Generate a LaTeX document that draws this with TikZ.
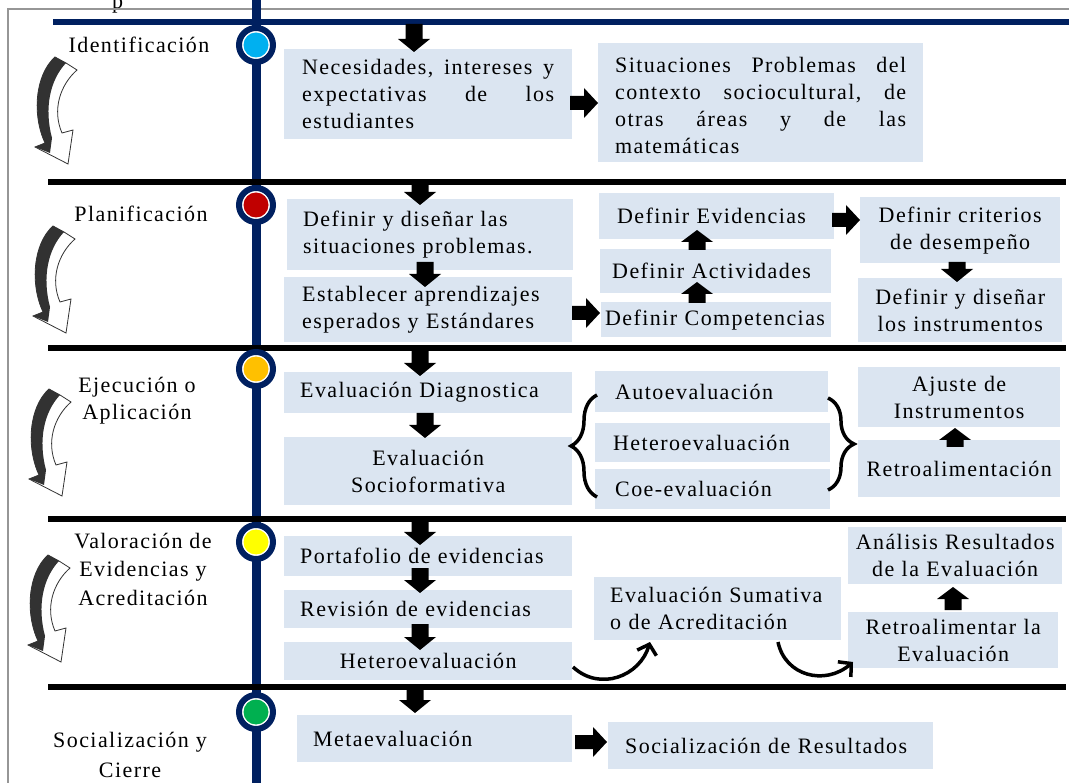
\documentclass[tikz,border=0pt]{standalone}
\usepackage{fontspec}
\setmainfont{Liberation Serif}[LetterSpace=6.5]
\usetikzlibrary{arrows.meta,decorations.pathreplacing}
\definecolor{navy}{RGB}{0,32,96}
\definecolor{boxblue}{RGB}{219,229,241}
\definecolor{cyanc}{RGB}{0,176,240}
\definecolor{redc}{RGB}{192,0,0}
\definecolor{amberc}{RGB}{255,192,0}
\definecolor{yellowc}{RGB}{255,255,0}
\definecolor{greenc}{RGB}{0,176,80}
\definecolor{darkc}{RGB}{50,50,50}
\definecolor{framec}{RGB}{150,150,150}
\newcommand\figfont{\fontsize{22}{27}\selectfont}
\newcommand\blkdown[3]{\fill[black] ({#1-8.5},#2) -- ({#1+8.5},#2) -- ({#1+8.5},{#3-13}) -- ({#1+16},{#3-13}) -- (#1,#3) -- ({#1-16},{#3-13}) -- ({#1-8.5},{#3-13}) -- cycle;}
\newcommand\blkup[3]{\fill[black] ({#1-8.5},#2) -- ({#1+8.5},#2) -- ({#1+8.5},{#3+12}) -- ({#1+16},{#3+12}) -- (#1,#3) -- ({#1-16},{#3+12}) -- ({#1-8.5},{#3+12}) -- cycle;}
\newcommand\blkright[3]{\fill[black] (#1,{#3-7}) -- ({#2-14},{#3-7}) -- ({#2-14},{#3-15}) -- (#2,#3) -- ({#2-14},{#3+15}) -- ({#2-14},{#3+7}) -- (#1,{#3+7}) -- cycle;}
\newcommand\bx[8]{\node[box, minimum width=#4pt, minimum height=#5pt, text width=#6pt, align=#7] (#1) at (#2,#3) {#8};}
\newcommand\jl[2]{\leavevmode\hbox to #1pt{#2}}
\tikzset{
  box/.style={fill=boxblue, inner sep=0pt, anchor=north west, font=\figfont},
  lbl/.style={font=\figfont, inner sep=0pt},
  sepline/.style={line width=6pt, black},
  ring/.style={circle, draw=navy, line width=6pt, fill=white, minimum size=34pt, inner sep=0pt,
    path picture={\fill[#1] (path picture bounding box.center) circle (12.5pt);}},
  curv/.style={line width=3.5pt, -{Straight Barb[length=9pt,width=20pt]}},
  brc/.style={line width=3.5pt, decorate, decoration={brace, amplitude=26pt, aspect=0.5}},
  cyc/.pic={
    \fill[white, draw=darkc, line width=0.8pt] (55,57) -- (66,63) -- (77,70) .. controls (60,85) and (52,110) .. (62,133) -- (73,130) -- (68,164) -- (35,147) -- (45,143) .. controls (32,115) and (35,75) .. (55,57) -- cycle;
    \fill[darkc] (55,57) -- (66,63) .. controls (50,80) and (44,108) .. (52,138) -- (50,153) -- (35,147) -- (45,143) .. controls (32,115) and (35,75) .. (55,57) -- cycle;
  }
}
\begin{document}
\begin{tikzpicture}[x=1pt,y=-1pt]
\useasboundingbox (0,0) rectangle (1069,783);
\node[lbl, anchor=base west] (cap) at (112,9) {p};
\draw[framec, line width=1.5pt] (8,783) -- (8,9) -- (1069,9);
% timeline
\draw[navy, line width=9pt] (256,0) -- (256,783);
\draw[navy, line width=6pt] (53,22) -- (1069,22);
\foreach \yy in {182,348,519,687} \draw[sepline] (48,\yy) -- (1066,\yy);
\node[ring=cyanc] (c1) at (256,45) {};
\node[ring=redc] (c2) at (256,205) {};
\node[ring=amberc] (c3) at (256,369) {};
\node[ring=yellowc] (c4) at (256,542) {};
\node[ring=greenc] (c5) at (256,712) {};
% phase labels (base = baseline of last line)
\node[lbl, anchor=base] (t1) at (139,53) {Identificación};
\node[lbl, anchor=base] (t2) at (141,222) {Planificación};
\node[lbl, anchor=base, align=center] (t3) at (137,420) {Ejecución o\\Aplicación};
\node[lbl, anchor=base, align=center, font=\fontsize{22}{28.5}\selectfont] (t4) at (143,605) {Valoración de\\Evidencias y\\Acreditación};
\node[lbl, anchor=base, align=center, font=\fontsize{22}{30}\selectfont] (t5) at (130,777) {Socialización y\\Cierre};
% cycle arrows
\pic at (0,0) {cyc};
\pic at (-2,169) {cyc};
\pic at (-6,332) {cyc};
\pic at (-7,498) {cyc};
% section 1
\bx{n1}{284}{49}{288}{90}{252}{left}{\jl{252}{Necesidades,\hfill intereses\hfill y}\\\jl{252}{expectativas\hfill de\hfill los}\\estudiantes}
\bx{n2}{598}{43}{325}{119}{291}{left}{\rule{0pt}{20pt}\jl{291}{Situaciones\hfill Problemas\hfill del}\\\jl{291}{contexto\hfill sociocultural,\hfill de}\\\jl{291}{otras\hfill áreas\hfill y\hfill de\hfill las}\\matemáticas}
% section 2
\bx{p1}{287}{199}{286}{71}{254}{left}{Definir y diseñar las\\situaciones problemas.}
\bx{p2}{284}{277}{288}{65}{252}{left}{Establecer aprendizajes\\esperados y Estándares}
\bx{p3}{599}{193}{235}{46}{199}{left}{Definir Evidencias}
\bx{p4}{600}{249}{231}{44}{215}{left}{\hspace*{4pt}Definir Actividades}
\bx{p5}{601}{302}{230}{35}{222}{left}{Definir Competencias}
\bx{p6}{860}{197}{200}{66}{190}{center}{Definir criterios\\de desempeño}
\bx{p7}{858}{278}{204}{64}{194}{center}{Definir y diseñar\\los instrumentos}
% section 3
\bx{e1}{284}{372}{288}{41}{256}{left}{Evaluación Diagnostica}
\bx{e2}{284}{437}{288}{68}{260}{center}{Evaluación\\Socioformativa}
\bx{e3}{595}{371}{233}{41}{193}{left}{Autoevaluación}
\bx{e4}{595}{423}{235}{39}{199}{left}{Heteroevaluación}
\bx{e5}{595}{469}{235}{40}{195}{left}{Coe-evaluación}
\bx{e6}{858}{367}{202}{60}{190}{center}{Ajuste de\\Instrumentos}
\bx{e7}{858}{440}{202}{57}{190}{center}{Retroalimentación}
% section 4
\bx{v1}{284}{536}{288}{40}{256}{left}{Portafolio de evidencias}
\bx{v2}{284}{590}{288}{38}{256}{left}{Revisión de evidencias}
\bx{v3}{284}{642}{288}{38}{256}{center}{Heteroevaluación}
\bx{v4}{594}{577}{247}{63}{215}{left}{Evaluación Sumativa\\o de Acreditación}
\bx{v5}{848}{527}{214}{57}{200}{center}{Análisis Resultados\\de la Evaluación}
\bx{v6}{848}{612}{210}{56}{200}{center}{Retroalimentar la\\Evaluación}
% section 5
\bx{s1}{297}{715}{275}{47}{243}{left}{Metaevaluación}
\bx{s2}{608}{722}{325}{47}{291}{left}{Socialización de Resultados}
% block arrows
\blkdown{414}{24}{52}
\blkright{570}{598}{103}
\blkdown{420}{185}{205}
\blkdown{425}{262}{287}
\blkright{572}{600}{313}
\blkup{697}{250}{230}
\blkup{697}{303}{282}
\blkright{832}{860}{220}
\blkdown{957}{262}{282}
\blkdown{420}{351}{376}
\blkdown{425}{413}{438}
\blkup{955}{447}{428}
\blkdown{420}{521}{545}
\blkdown{420}{568}{593}
\blkdown{420}{624}{650}
\blkup{953}{610}{587}
\blkdown{415}{690}{713}
\blkright{575}{607}{742}
% braces
\draw[brc] (597,497) -- (597,395);
\draw[brc] (828,398) -- (828,490);
% curved connectors
\coordinate (ca1) at (573,667);
\coordinate (ca2) at (650,642);
\coordinate (cb1) at (778,642);
\coordinate (cb2) at (853,662);
\draw[curv] (ca1) .. controls (600,692) and (640,676) .. (ca2);
\draw[curv] (cb1) .. controls (785,676) and (825,686) .. (cb2);
\end{tikzpicture}
\end{document}
